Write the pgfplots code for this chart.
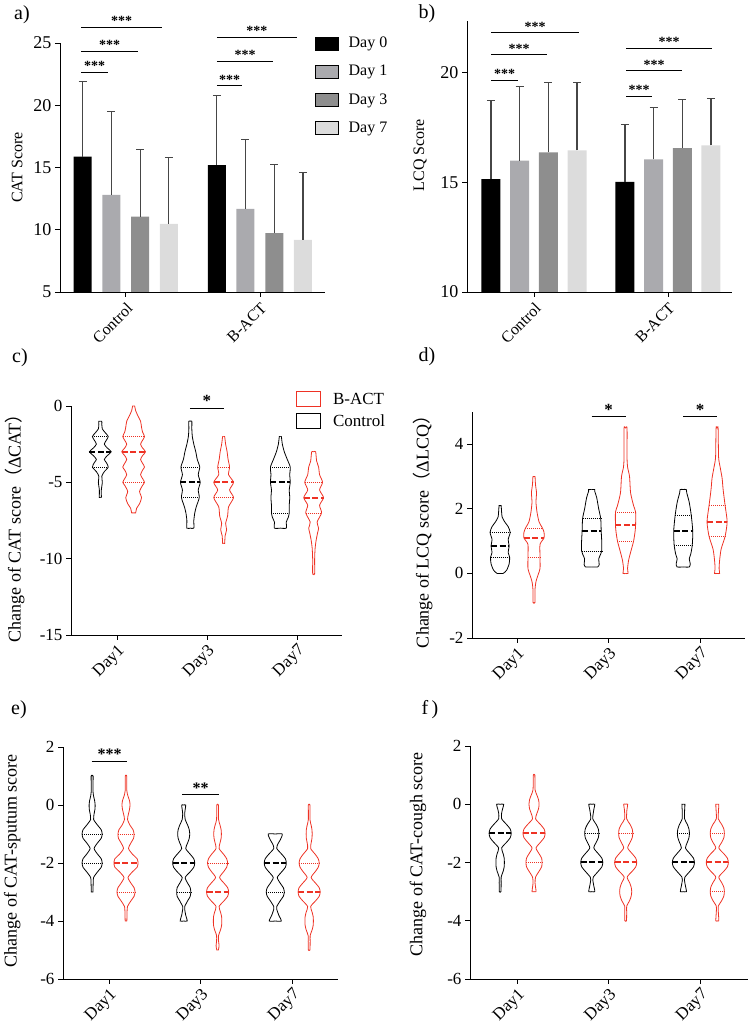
\documentclass[border=0pt]{standalone}
\usepackage{pgfplots}
\usepackage{pgfplotstable}
\pgfplotsset{compat=1.18}
\usepackage{fontspec}
\setmainfont{Liberation Serif}
\newfontfamily\cjk{Noto Sans CJK SC}

\definecolor{vred}{RGB}{238,50,36}
\definecolor{gA}{RGB}{170,170,174}
\definecolor{gB}{RGB}{142,142,142}
\definecolor{gC}{RGB}{220,220,220}
\definecolor{ebar}{RGB}{70,70,70}

% violin outlines: y value, half width (px)
% c) change of CAT
\pgfplotstableread[row sep=\\]{y w\\ -6 0\\ -6 1\\ -5.5 1\\ -5 2\\ -4.6 1.5\\ -4.3 4\\ -4 8\\ -3.7 6\\ -3.5 4\\ -3.25 7\\ -3 11\\ -2.75 7\\ -2.5 4\\ -2.25 6\\ -2 8\\ -1.75 5\\ -1.5 2\\ -1.2 1.5\\ -1 1.5\\ -1 0\\}\cA
\pgfplotstableread[row sep=\\]{y w\\ -7 0\\ -7 2\\ -6.7 3\\ -6.4 6\\ -6 8\\ -5.6 6\\ -5.2 9\\ -5 11\\ -4.75 9\\ -4.5 7\\ -4.2 9\\ -4 11\\ -3.75 9\\ -3.5 7\\ -3.25 9\\ -3 12\\ -2.75 9\\ -2.5 7\\ -2.25 9\\ -2 11\\ -1.7 9\\ -1.4 8\\ -1 7\\ -0.6 4\\ -0.3 2\\ 0 1\\ 0 0\\}\cB
\pgfplotstableread[row sep=\\]{y w\\ -8 0\\ -8 3.5\\ -7.5 3.5\\ -7 4.5\\ -6.6 6\\ -6 9\\ -5.5 8\\ -5 10\\ -4.5 8\\ -4 9.5\\ -3.5 7\\ -3 5.5\\ -2.5 3.5\\ -2 2\\ -1.5 1.5\\ -1 1.5\\ -1 0\\}\cC
\pgfplotstableread[row sep=\\]{y w\\ -9 0\\ -9 1\\ -8.5 1.5\\ -8.1 3\\ -7.7 2\\ -7.2 4\\ -6.6 5\\ -6 10\\ -5.5 6\\ -5 10\\ -4.5 5\\ -4 6\\ -3.5 4.5\\ -3 3.5\\ -2.5 2\\ -2 1\\ -2 0\\}\cD
\pgfplotstableread[row sep=\\]{y w\\ -8 0\\ -8 6\\ -7.6 6\\ -7.3 8\\ -7 9\\ -6.5 9\\ -6 9.5\\ -5.5 9\\ -5 10\\ -4.5 9.5\\ -4 10\\ -3.5 7\\ -3 4\\ -2.5 2\\ -2 1\\ -2 0\\}\cE
\pgfplotstableread[row sep=\\]{y w\\ -11 0\\ -11 1\\ -10 1\\ -9.3 1.5\\ -8.8 2.5\\ -8.3 4\\ -8 5\\ -7.6 3.5\\ -7 8\\ -6.5 6\\ -6 10\\ -5.5 6\\ -5 9\\ -4.5 6\\ -4 5\\ -3.6 3\\ -3 2\\ -3 0\\}\cF
% d) change of LCQ
\pgfplotstableread[row sep=\\]{y w\\ 0 0\\ 0 3\\ 0.1 6.5\\ 0.3 9\\ 0.5 9.5\\ 0.65 8\\ 0.85 9\\ 1.05 8\\ 1.27 10\\ 1.45 8\\ 1.6 4.5\\ 1.75 2\\ 1.9 1.5\\ 2.1 1\\ 2.1 0\\}\dA
\pgfplotstableread[row sep=\\]{y w\\ -0.9 0\\ -0.9 1\\ -0.5 1\\ -0.25 2\\ -0.05 4\\ 0.15 6\\ 0.5 6\\ 0.9 6\\ 1.1 10\\ 1.27 10\\ 1.4 8.5\\ 1.6 5\\ 1.9 3\\ 2.2 2\\ 2.5 2.5\\ 2.75 1.5\\ 3 1\\ 3 0\\}\dB
\pgfplotstableread[row sep=\\]{y w\\ 0.2 0\\ 0.2 6\\ 0.28 7.5\\ 0.45 7\\ 0.6 9\\ 0.7 10\\ 1.0 10\\ 1.3 9.5\\ 1.7 9\\ 2.0 7\\ 2.35 5\\ 2.55 3\\ 2.6 3\\ 2.6 0\\}\dC
\pgfplotstableread[row sep=\\]{y w\\ 0 0\\ 0 2.5\\ 0.15 2\\ 0.4 3\\ 0.65 5\\ 1.0 8\\ 1.3 9.5\\ 1.5 10\\ 1.9 10\\ 2.1 8\\ 2.5 5\\ 3.0 4\\ 3.3 2\\ 3.6 1.5\\ 4.5 1.5\\ 4.5 0\\}\dD
\pgfplotstableread[row sep=\\]{y w\\ 0.2 0\\ 0.2 6\\ 0.3 7\\ 0.45 6\\ 0.6 7.5\\ 0.88 9\\ 1.3 9.5\\ 1.8 8\\ 2.2 6\\ 2.5 3.5\\ 2.6 3\\ 2.6 0\\}\dE
\pgfplotstableread[row sep=\\]{y w\\ 0 0\\ 0 2.5\\ 0.15 2\\ 0.4 2.5\\ 0.75 4\\ 1.15 8\\ 1.6 10\\ 2.1 8\\ 2.6 6\\ 2.95 5\\ 3.3 3\\ 3.6 1.5\\ 4.5 1\\ 4.5 0\\}\dF
% e) change of CAT-sputum
\pgfplotstableread[row sep=\\]{y w\\ -3 0\\ -3 0.8\\ -2.75 1\\ -2.5 1.5\\ -2.3 5.5\\ -2.15 9\\ -2 10\\ -1.85 9\\ -1.7 5.5\\ -1.5 2\\ -1.3 5.5\\ -1.15 9\\ -1 10\\ -0.85 9\\ -0.7 5.5\\ -0.5 1.5\\ -0.3 2\\ -0.15 2.8\\ 0 3\\ 0.15 2.5\\ 0.3 1.5\\ 0.5 0.8\\ 1 1\\ 1 0\\}\eA
\pgfplotstableread[row sep=\\]{y w\\ -4 0\\ -4 0.8\\ -3.75 1\\ -3.5 1.5\\ -3.3 5\\ -3.15 8\\ -3 9\\ -2.85 8\\ -2.7 5\\ -2.5 2\\ -2.3 6.5\\ -2.15 11\\ -2 12\\ -1.85 11\\ -1.7 6.5\\ -1.5 2.5\\ -1.3 5\\ -1.15 7.5\\ -1 8\\ -0.85 7\\ -0.7 4\\ -0.5 1.5\\ -0.3 2.5\\ -0.15 3.5\\ 0 4\\ 0.15 3.5\\ 0.3 2\\ 0.5 0.8\\ 1 0.8\\ 1 0\\}\eB
\pgfplotstableread[row sep=\\]{y w\\ -4 0\\ -4 3.5\\ -3.8 2\\ -3.6 1\\ -3.5 1\\ -3.3 4\\ -3.15 6.5\\ -3 7\\ -2.85 6.5\\ -2.7 4\\ -2.5 1.5\\ -2.3 6.5\\ -2.15 10\\ -2 11\\ -1.85 10\\ -1.7 6.5\\ -1.5 2\\ -1.3 4\\ -1.15 5.5\\ -1 6\\ -0.85 5.5\\ -0.7 4\\ -0.5 1.5\\ -0.3 1\\ -0.15 1.5\\ 0 2\\ 0 0\\}\eC
\pgfplotstableread[row sep=\\]{y w\\ -5 0\\ -5 0.8\\ -4.85 1.5\\ -4.7 1\\ -4.5 1\\ -4.3 3\\ -4.15 4\\ -4 4.2\\ -3.85 4\\ -3.7 3\\ -3.5 1.5\\ -3.3 6.5\\ -3.15 10\\ -3 11\\ -2.85 10\\ -2.7 6.5\\ -2.5 2\\ -2.3 6\\ -2.15 9\\ -2 10\\ -1.85 9\\ -1.7 6\\ -1.5 1.5\\ -1.3 2.5\\ -1.15 3.5\\ -1 3.8\\ -0.85 3.5\\ -0.7 2.5\\ -0.5 1\\ 0 0.8\\ 0 0\\}\eD
\pgfplotstableread[row sep=\\]{y w\\ -4 0\\ -4 6\\ -3.8 3.5\\ -3.6 1.5\\ -3.5 1.5\\ -3.3 5\\ -3.15 8\\ -3 9\\ -2.85 8\\ -2.7 5\\ -2.5 2\\ -2.3 6.5\\ -2.15 10\\ -2 11\\ -1.85 10\\ -1.7 6.5\\ -1.5 1.5\\ -1.35 2.5\\ -1.2 5\\ -1 7\\ -1 0\\}\eE
\pgfplotstableread[row sep=\\]{y w\\ -5 0\\ -5 0.8\\ -4.7 1\\ -4.5 1\\ -4.3 3\\ -4.15 4\\ -4 4.2\\ -3.85 4\\ -3.7 3\\ -3.5 1.5\\ -3.3 6.5\\ -3.15 10\\ -3 11\\ -2.85 10\\ -2.7 6.5\\ -2.5 2\\ -2.3 6\\ -2.15 9\\ -2 10\\ -1.85 9\\ -1.7 6\\ -1.5 1.5\\ -1.3 2\\ -1.15 2.8\\ -1 3\\ -0.85 2.8\\ -0.7 2\\ -0.5 0.8\\ 0 0.8\\ 0 0\\}\eF
% f) change of CAT-cough
\pgfplotstableread[row sep=\\]{y w\\ -3 0\\ -3 0.8\\ -2.7 1\\ -2.5 1\\ -2.3 3\\ -2.15 4\\ -2 4.2\\ -1.85 4\\ -1.7 3\\ -1.5 1.5\\ -1.3 6.5\\ -1.15 10\\ -1 11\\ -0.85 10\\ -0.7 6.5\\ -0.5 1.5\\ -0.3 1.5\\ -0.15 2.5\\ 0 3.5\\ 0 0\\}\fA
\pgfplotstableread[row sep=\\]{y w\\ -3 0\\ -3 2\\ -2.85 1.5\\ -2.7 1\\ -2.5 1.5\\ -2.3 5\\ -2.15 7.5\\ -2 8\\ -1.85 7.5\\ -1.7 5\\ -1.5 2\\ -1.3 6.5\\ -1.15 10\\ -1 11\\ -0.85 10\\ -0.7 6.5\\ -0.5 1.5\\ -0.3 3\\ -0.15 4.5\\ 0 5\\ 0.15 4.5\\ 0.3 3\\ 0.5 1\\ 1 0.8\\ 1 0\\}\fB
\pgfplotstableread[row sep=\\]{y w\\ -3 0\\ -3 3\\ -2.8 2\\ -2.6 1\\ -2.5 1.5\\ -2.3 6.5\\ -2.15 10\\ -2 11\\ -1.85 10\\ -1.7 6.5\\ -1.5 2\\ -1.3 4.5\\ -1.15 6.5\\ -1 7\\ -0.85 6.5\\ -0.7 4.5\\ -0.5 1\\ -0.3 1.5\\ -0.15 2.2\\ 0 3\\ 0 0\\}\fC
\pgfplotstableread[row sep=\\]{y w\\ -4 0\\ -4 0.8\\ -3.7 1\\ -3.5 1\\ -3.3 4\\ -3.15 5.5\\ -3 6\\ -2.85 5.5\\ -2.7 4\\ -2.5 1.5\\ -2.3 6.5\\ -2.15 10\\ -2 11\\ -1.85 10\\ -1.7 6.5\\ -1.5 2\\ -1.3 4.5\\ -1.15 6.5\\ -1 7\\ -0.85 6.5\\ -0.7 4.5\\ -0.5 1\\ -0.2 1.2\\ 0 2\\ 0 0\\}\fD
\pgfplotstableread[row sep=\\]{y w\\ -3 0\\ -3 3\\ -2.8 2\\ -2.6 1\\ -2.5 1.5\\ -2.3 6.5\\ -2.15 10\\ -2 11\\ -1.85 10\\ -1.7 6.5\\ -1.5 2\\ -1.3 4\\ -1.15 5.5\\ -1 6\\ -0.85 5.5\\ -0.7 4\\ -0.5 1.2\\ -0.2 1.2\\ 0 1.5\\ 0 0\\}\fE
\pgfplotstableread[row sep=\\]{y w\\ -4 0\\ -4 1.5\\ -3.7 1\\ -3.5 1\\ -3.3 4.5\\ -3.15 6.5\\ -3 7\\ -2.85 6.5\\ -2.7 4.5\\ -2.5 1.5\\ -2.3 6.5\\ -2.15 10\\ -2 11\\ -1.85 10\\ -1.7 6.5\\ -1.5 1.5\\ -1.3 4.5\\ -1.15 6.5\\ -1 7\\ -0.85 6.5\\ -0.7 4.5\\ -0.5 1\\ -0.2 1.2\\ 0 1.5\\ 0 0\\}\fF

% two mirrored halves of a violin
\newcommand{\violin}[3]{%
  \addplot[#2, line width=0.8pt, smooth, tension=0.4] table[x expr={#1+\thisrow{w}/91}, y=y] {#3};
  \addplot[#2, line width=0.8pt, smooth, tension=0.4] table[x expr={#1-\thisrow{w}/91}, y=y] {#3};
}
% quartile / median line: centre, y, half width (px), style
\newcommand{\hl}[4]{%
  \pgfmathsetmacro{\xa}{#1-#3/91}\pgfmathsetmacro{\xb}{#1+#3/91}%
  \edef\temp{\noexpand\addplot[#4] coordinates {(\xa,#2) (\xb,#2)};}\temp
}

\tikzset{
  qd/.style={line width=0.6pt, dash pattern=on 1pt off 1pt},
  md/.style={line width=2pt, dash pattern=on 6pt off 2.5pt},
  sig/.style={black, line width=0.8pt},
  stars/.style={above, inner sep=1pt, font=\fontsize{14}{14}\selectfont\bfseries},
}
\pgfplotsset{
  panel/.style={scale only axis, anchor=south west,
    axis x line=bottom, axis y line=left,
    x axis line style={-}, y axis line style={-},
    axis line style={line width=0.8pt},
    tick style={line width=0.8pt, black}, tick align=outside,
    major tick length=5pt, minor tick num=0,
    ticklabel style={font=\fontsize{17}{17}\selectfont},
    /pgf/number format/assume math mode=true,
    ylabel style={font=\fontsize{18}{18}\selectfont, anchor=center}},
  vpanel/.style={panel, clip=false, xtick={1,2,3}, xticklabels={Day1,Day3,Day7},
    xticklabel style={rotate=45, anchor=north east, inner sep=2pt}},
  bpanel/.style={panel, xtick={0,1}, xticklabels={Control,B-ACT},
    yticklabel style={font=\fontsize{18}{18}\selectfont},
    xticklabel style={rotate=45, anchor=north east, font=\fontsize{16}{16}\selectfont},
    ylabel style={font=\fontsize{16}{16}\selectfont}},
  bars/.style={ybar, bar shift=0pt, draw=none,
    error bars/.cd, y dir=plus, y explicit, error mark=-,
    error bar style={draw=ebar, line width=1.2pt},
    error mark options={rotate=90, draw=ebar, line width=1.2pt, mark size=4pt}},
}

\begin{document}
\begin{tikzpicture}
\useasboundingbox (0pt,0pt) rectangle (750pt,1027pt);

% ---------------- a) CAT score ----------------
\begin{axis}[bpanel, at={(60pt,735pt)}, width=265pt, height=249pt,
  xmin=-0.49, xmax=1.485, ymin=5, ymax=25, ytick={5,10,15,20,25},
  ylabel={CAT Score}, ylabel style={at={(axis description cs:-0.162,0.5)}},
  legend image code/.code={\fill[#1] (0pt,-6.5pt) rectangle (23pt,6.5pt); \path (31pt,0pt);},
  legend style={at={(axis description cs:0.951,1.04)}, anchor=north west,
    draw=none, fill=none, font=\fontsize{16}{16}\selectfont, row sep=12pt},
  legend cell align=left]
\addlegendimage{fill=black}\addlegendentry{Day 0}
\addlegendimage{fill=gA}\addlegendentry{Day 1}
\addlegendimage{fill=gB}\addlegendentry{Day 3}
\addlegendimage{fill=gC}\addlegendentry{Day 7}
\addplot[fill=black, bar width=18pt, bars]
  coordinates {(-0.321,15.88) +- (0,6.04) (0.679,15.19) +- (0,5.57)};
\addplot[fill=gA, bar width=18pt, bars]
  coordinates {(-0.108,12.80) +- (0,6.70) (0.892,11.68) +- (0,5.60)};
\addplot[fill=gB, bar width=18pt, bars]
  coordinates {(0.108,11.06) +- (0,5.41) (1.108,9.72) +- (0,5.49)};
\addplot[fill=gC, bar width=18pt, bars]
  coordinates {(0.321,10.47) +- (0,5.36) (1.321,9.18) +- (0,5.39)};
\end{axis}
\begin{axis}[scale only axis, anchor=south west, at={(60pt,735pt)}, width=265pt, height=249pt,
  xmin=-0.49, xmax=1.485, ymin=5, ymax=25, hide axis, clip=false]
\addplot[sig] coordinates {(-0.33,22.64) (-0.134,22.64)} node[pos=0.5, stars] {***};
\addplot[sig] coordinates {(-0.33,24.33) (0.09,24.33)} node[pos=0.5, stars] {***};
\addplot[sig] coordinates {(-0.33,26.26) (0.27,26.26)} node[pos=0.5, stars] {***};
\addplot[sig] coordinates {(0.68,21.57) (0.87,21.57)} node[pos=0.5, stars] {***};
\addplot[sig] coordinates {(0.68,23.53) (1.10,23.53)} node[pos=0.5, stars] {***};
\addplot[sig] coordinates {(0.68,25.46) (1.276,25.46)} node[pos=0.5, stars] {***};
\end{axis}

% ---------------- b) LCQ score ----------------
\begin{axis}[bpanel, at={(467pt,735pt)}, width=265pt, height=271pt,
  xmin=-0.5, xmax=1.478, ymin=10, ymax=22.35, ytick={10,15,20},
  ylabel={LCQ Score}, ylabel style={at={(axis description cs:-0.177,0.505)}}]
\addplot[fill=black, bar width=19pt, bars]
  coordinates {(-0.321,15.14) +- (0,3.57) (0.679,15.02) +- (0,2.61)};
\addplot[fill=gA, bar width=19pt, bars]
  coordinates {(-0.108,15.99) +- (0,3.36) (0.892,16.04) +- (0,2.37)};
\addplot[fill=gB, bar width=19pt, bars]
  coordinates {(0.108,16.36) +- (0,3.18) (1.108,16.56) +- (0,2.23)};
\addplot[fill=gC, bar width=19pt, bars]
  coordinates {(0.321,16.45) +- (0,3.09) (1.321,16.68) +- (0,2.14)};
\end{axis}
\begin{axis}[scale only axis, anchor=south west, at={(467pt,735pt)}, width=265pt, height=271pt,
  xmin=-0.5, xmax=1.478, ymin=10, ymax=22.35, hide axis, clip=false]
\addplot[sig] coordinates {(-0.32,19.65) (-0.12,19.65)} node[pos=0.5, stars] {***};
\addplot[sig] coordinates {(-0.32,20.82) (0.097,20.82)} node[pos=0.5, stars] {***};
\addplot[sig] coordinates {(-0.32,21.82) (0.336,21.82)} node[pos=0.5, stars] {***};
\addplot[sig] coordinates {(0.69,18.92) (0.88,18.92)} node[pos=0.5, stars] {***};
\addplot[sig] coordinates {(0.69,20.09) (1.104,20.09)} node[pos=0.5, stars] {***};
\addplot[sig] coordinates {(0.69,21.12) (1.328,21.12)} node[pos=0.5, stars] {***};
\end{axis}

% ---------------- c) change of CAT ----------------
\begin{axis}[vpanel, at={(71pt,392pt)}, width=271pt, height=229pt,
  xmin=0.489, xmax=3.5, ymin=-15, ymax=0, ytick={-15,-10,-5,0},
  ylabel={Change of CAT score{\cjk （}ΔCAT{\cjk ）}},
  ylabel style={at={(axis description cs:-0.207,0.485)}},
  legend image code/.code={\draw[#1, line width=0.8pt] (0pt,-7.5pt) rectangle (24pt,7.5pt); \path (34pt,0pt);},
  legend style={at={(axis description cs:0.82,1.076)}, anchor=north west,
    draw=none, fill=none, font=\fontsize{17}{17}\selectfont, row sep=5pt},
  legend cell align=left]
\addlegendimage{vred}\addlegendentry{B-ACT}
\addlegendimage{black}\addlegendentry{Control}
\violin{0.815}{black}{\cA}
\violin{1.185}{vred}{\cB}
\violin{1.815}{black}{\cC}
\violin{2.185}{vred}{\cD}
\violin{2.815}{black}{\cE}
\violin{3.185}{vred}{\cF}
\hl{0.815}{-2}{8}{black, qd}\hl{0.815}{-4}{8}{black, qd}\hl{0.815}{-3}{11}{black, md}
\hl{1.185}{-2}{11}{vred, qd}\hl{1.185}{-5}{11}{vred, qd}\hl{1.185}{-3}{12}{vred, md}
\hl{1.815}{-4}{9}{black, qd}\hl{1.815}{-6}{9}{black, qd}\hl{1.815}{-5}{10}{black, md}
\hl{2.185}{-4}{6}{vred, qd}\hl{2.185}{-6}{10}{vred, qd}\hl{2.185}{-5}{10}{vred, md}
\hl{2.815}{-4}{10}{black, qd}\hl{2.815}{-7}{9}{black, qd}\hl{2.815}{-5}{10}{black, md}
\hl{3.185}{-5}{9}{vred, qd}\hl{3.185}{-7}{8}{vred, qd}\hl{3.185}{-6}{10}{vred, md}
\addplot[sig] coordinates {(1.81,-0.13) (2.19,-0.13)} node[pos=0.5, stars, font=\fontsize{17}{17}\selectfont\bfseries] {*};
\end{axis}

% ---------------- d) change of LCQ ----------------
\begin{axis}[vpanel, at={(472pt,389pt)}, width=273pt, height=226pt,
  xmin=0.508, xmax=3.49, ymin=-2, ymax=5, ytick={-2,0,2,4},
  ylabel={Change of LCQ score{\cjk （}ΔLCQ{\cjk ）}},
  ylabel style={at={(axis description cs:-0.18,0.489)}}]
\violin{0.815}{black}{\dA}
\violin{1.185}{vred}{\dB}
\violin{1.815}{black}{\dC}
\violin{2.185}{vred}{\dD}
\violin{2.815}{black}{\dE}
\violin{3.185}{vred}{\dF}
\hl{0.815}{1.27}{10}{black, qd}\hl{0.815}{0.5}{9.5}{black, qd}\hl{0.815}{0.85}{9}{black, md}
\hl{1.185}{1.4}{8.5}{vred, qd}\hl{1.185}{0.5}{6}{vred, qd}\hl{1.185}{1.1}{10}{vred, md}
\hl{1.815}{1.7}{9}{black, qd}\hl{1.815}{0.7}{10}{black, qd}\hl{1.815}{1.3}{9.5}{black, md}
\hl{2.185}{1.9}{10}{vred, qd}\hl{2.185}{1.0}{8}{vred, qd}\hl{2.185}{1.5}{10}{vred, md}
\hl{2.815}{1.8}{8}{black, qd}\hl{2.815}{0.88}{9}{black, qd}\hl{2.815}{1.3}{9.5}{black, md}
\hl{3.185}{2.1}{8}{vred, qd}\hl{3.185}{1.15}{8}{vred, qd}\hl{3.185}{1.6}{10}{vred, md}
\addplot[sig] coordinates {(1.815,4.86) (2.185,4.86)} node[pos=0.5, stars, font=\fontsize{17}{17}\selectfont\bfseries] {*};
\addplot[sig] coordinates {(2.815,4.86) (3.185,4.86)} node[pos=0.5, stars, font=\fontsize{17}{17}\selectfont\bfseries] {*};
\end{axis}

% ---------------- e) change of CAT-sputum ----------------
\begin{axis}[vpanel, at={(63pt,48pt)}, width=275pt, height=232pt,
  xmin=0.497, xmax=3.5, ymin=-6, ymax=2, ytick={-6,-4,-2,0,2},
  ylabel={Change of CAT-sputum score},
  ylabel style={at={(axis description cs:-0.185,0.509)}}]
\violin{0.815}{black}{\eA}
\violin{1.185}{vred}{\eB}
\violin{1.815}{black}{\eC}
\violin{2.185}{vred}{\eD}
\violin{2.815}{black}{\eE}
\violin{3.185}{vred}{\eF}
\hl{0.815}{-1}{10}{black, qd}\hl{0.815}{-2}{10}{black, qd}
\hl{1.185}{-1}{8}{vred, qd}\hl{1.185}{-3}{9}{vred, qd}\hl{1.185}{-2}{12}{vred, md}
\hl{1.815}{-3}{7}{black, qd}\hl{1.815}{-2}{11}{black, md}
\hl{2.185}{-2}{10}{vred, qd}\hl{2.185}{-3}{11}{vred, md}
\hl{2.815}{-3}{9}{black, qd}\hl{2.815}{-2}{11}{black, md}
\hl{3.185}{-2}{10}{vred, qd}\hl{3.185}{-3}{11}{vred, md}
\addplot[sig] coordinates {(0.81,1.52) (1.2,1.52)} node[pos=0.5, stars, font=\fontsize{16}{16}\selectfont\bfseries] {***};
\addplot[sig] coordinates {(1.8,0.35) (2.2,0.35)} node[pos=0.5, stars, font=\fontsize{16}{16}\selectfont\bfseries] {**};
\end{axis}

% ---------------- f) change of CAT-cough ----------------
\begin{axis}[vpanel, at={(470pt,48pt)}, width=278pt, height=233pt,
  xmin=0.486, xmax=3.52, ymin=-6, ymax=2, ytick={-6,-4,-2,0,2},
  ylabel={Change of CAT-cough score},
  ylabel style={at={(axis description cs:-0.187,0.536)}}]
\violin{0.815}{black}{\fA}
\violin{1.185}{vred}{\fB}
\violin{1.815}{black}{\fC}
\violin{2.185}{vred}{\fD}
\violin{2.815}{black}{\fE}
\violin{3.185}{vred}{\fF}
\hl{0.815}{-1}{11}{black, md}
\hl{1.185}{-2}{8}{vred, qd}\hl{1.185}{-1}{11}{vred, md}
\hl{1.815}{-1}{7}{black, qd}\hl{1.815}{-2}{11}{black, md}
\hl{2.185}{-1}{7}{vred, qd}\hl{2.185}{-2}{11}{vred, md}
\hl{2.815}{-1}{6}{black, qd}\hl{2.815}{-2}{11}{black, md}
\hl{3.185}{-1}{7}{vred, qd}\hl{3.185}{-3}{7}{vred, qd}\hl{3.185}{-2}{11}{vred, md}
\end{axis}

% panel letters
\node[font=\fontsize{20}{20}\selectfont] at (22pt,1012pt) {a)};
\node[font=\fontsize{20}{20}\selectfont] at (427pt,1013pt) {b)};
\node[font=\fontsize{20}{20}\selectfont] at (20pt,669pt) {c)};
\node[font=\fontsize{20}{20}\selectfont] at (427pt,670pt) {d)};
\node[font=\fontsize{20}{20}\selectfont] at (19pt,317pt) {e)};
\node[font=\fontsize{20}{20}\selectfont] at (430pt,317pt) {f\,)};
\end{tikzpicture}
\end{document}
